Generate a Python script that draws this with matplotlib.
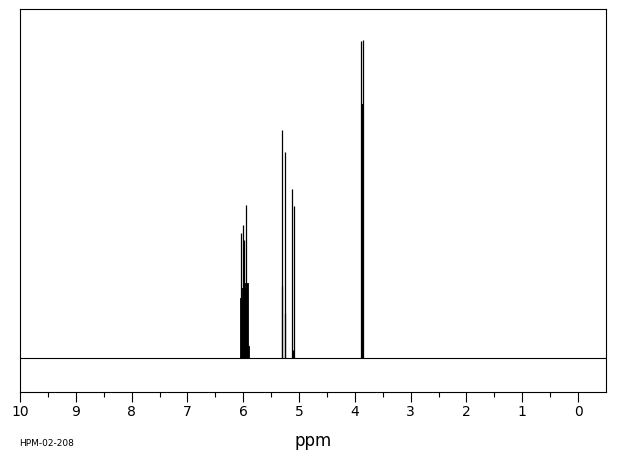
import matplotlib
matplotlib.use("Agg")
import matplotlib.pyplot as plt
import numpy as np

# Peak lines: chemical shift (ppm) and intensity (arbitrary units, baseline = 0)
peak_ppm = [6.040, 6.000, 5.982, 5.942,
            5.310, 5.299, 5.260, 5.246, 5.120, 5.102, 5.086,
            3.884, 3.848]
peak_int = [125, 133, 118, 153,
            72, 228, 45, 206, 169, 8, 152,
            317, 318]

# Dense (unresolved) regions: start ppm, end ppm, intensity
block_start = [6.060, 6.030, 5.970, 5.910, 3.884]
block_end = [6.030, 5.970, 5.910, 5.890, 3.848]
block_int = [60, 70, 75, 12, 254]

major_ticks = [10, 9, 8, 7, 6, 5, 4, 3, 2, 1, 0]
minor_ticks = [9.5, 8.5, 7.5, 6.5, 5.5, 4.5, 3.5, 2.5, 1.5, 0.5]

fig = plt.figure(figsize=(6.2, 4.55), dpi=100)
W, H = 620, 455
ax = fig.add_axes([20 / W, 1 - 392 / H, (606 - 20) / W, (392 - 9) / H])

ax.axhline(0, color="black", lw=0.8)
ax.vlines(peak_ppm, 0, peak_int, color="black", lw=0.9)
for s, e, h in zip(block_start, block_end, block_int):
    ax.fill_between([s, e], 0, h, color="black", lw=0.6, edgecolor="black")

ax.set_xlim(10, -0.5)
ax.set_ylim(-34, 349)
ax.set_yticks([])
ax.set_xticks(major_ticks)
ax.set_xticklabels([str(t) for t in major_ticks])
ax.set_xticks(minor_ticks, minor=True)
ax.tick_params(axis="x", which="major", direction="out", length=7.5, width=0.8,
               labelsize=10, pad=2)
ax.tick_params(axis="x", which="minor", direction="out", length=3.8, width=0.8)
for sp in ax.spines.values():
    sp.set_linewidth(0.8)

fig.text(313 / W, 1 - 441 / H, "ppm", ha="center", va="center", fontsize=12)
fig.text(19 / W, 1 - 443 / H, "HPM-02-208", ha="left", va="center", fontsize=6.5)

fig.savefig("out.png", dpi=100)
